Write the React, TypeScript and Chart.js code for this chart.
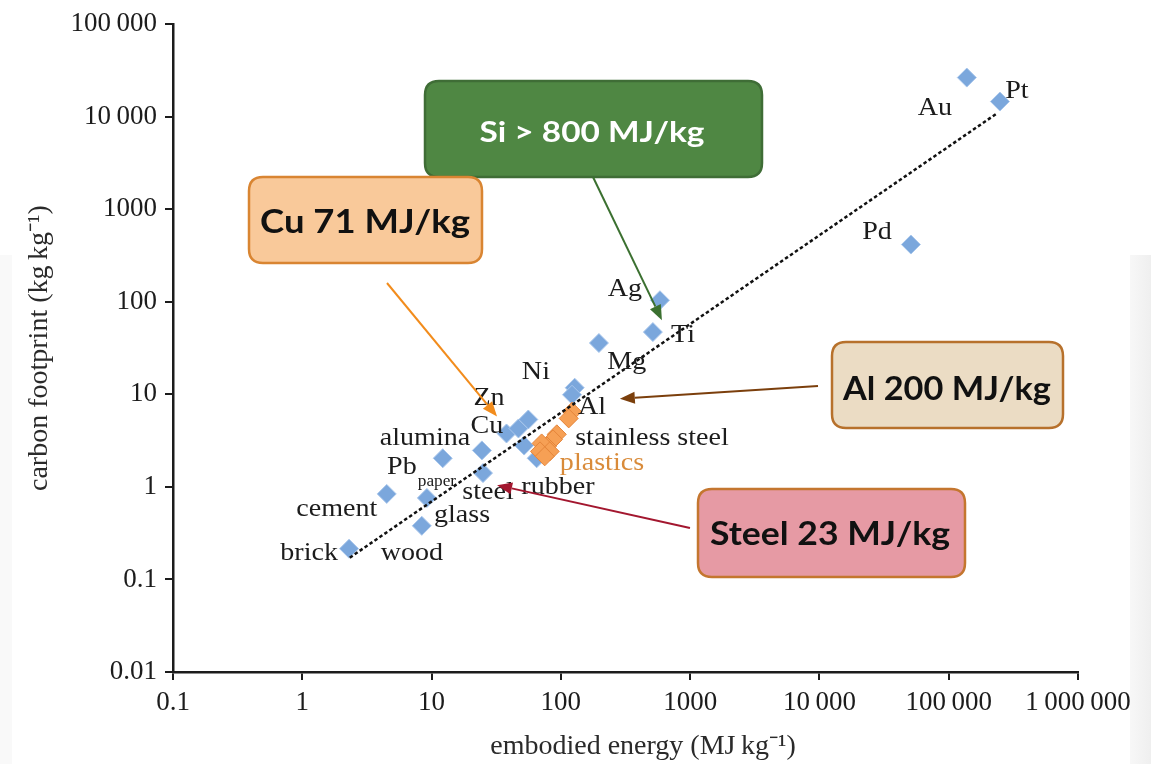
import React, { useEffect, useRef } from "react";
import { Chart, registerables } from "chart.js";

Chart.register(...registerables);

// ---- axis ticks ----
const xTickValues = [0.1, 1, 10, 100, 1000, 10000, 100000, 1000000];
const xTickLabels = ["0.1", "1", "10", "100", "1000", "10\u2009000", "100\u2009000", "1\u2009000\u2009000"];
const yTickValues = [0.01, 0.1, 1, 10, 100, 1000, 10000, 100000];
const yTickLabels = ["0.01", "0.1", "1", "10", "100", "1000", "10\u2009000", "100\u2009000"];

// ---- materials (blue diamonds) ----
const materialNames = [
  "brick", "wood", "cement", "paper", "Pb", "alumina", "steel", "Cu", "Zn-a", "Zn",
  "rubber-a", "rubber", "Ni", "Al", "Mg", "Ti", "Ag", "Pd", "Au", "Pt",
];
const materialEnergy = [2.3, 8.4, 4.5, 9.2, 12.2, 24.5, 25, 38, 47, 56, 52, 65, 128, 122, 197, 515, 584, 51000, 138000, 249000];
const materialCarbon = [0.215, 0.38, 0.84, 0.76, 2.04, 2.48, 1.41, 3.78, 4.28, 5.35, 2.8, 2.04, 11.8, 9.9, 35.9, 47.1, 104, 416, 26500, 14600];

// ---- plastics (orange diamonds) ----
const plasticsEnergy = [122, 115, 93, 87, 78, 71, 82, 69, 75];
const plasticsCarbon = [6.5, 5.5, 3.7, 3.26, 2.74, 2.95, 2.42, 2.42, 2.14];

// ---- trend line ----
const trendEnergy = [2.33, 236000];
const trendCarbon = [0.172, 10870];

// ---- point labels ----
const labelTexts = [
  "Au", "Pt", "Pd", "Ag", "Ti", "Mg", "Ni", "Zn", "Al", "Cu", "alumina", "stainless steel",
  "plastics", "Pb", "paper", "rubber", "steel", "cement", "glass", "brick", "wood",
];
const labelEnergy = [78200, 337000, 27900, 313, 880, 324, 64.1, 27.8, 174, 26.8, 8.89, 507, 208, 5.9, 11.0, 95, 27.3, 1.85, 17.2, 1.13, 7.05];
const labelCarbon = [12300, 18700, 560, 137, 43.8, 22.5, 17.5, 8.99, 7.2, 4.5, 3.34, 3.34, 1.8, 1.63, 1.13, 0.996, 0.88, 0.578, 0.498, 0.19, 0.19];

// ---- callouts ----
const calloutTexts = ["Si > 800 MJ/kg", "Cu 71 MJ/kg", "Al 200 MJ/kg", "Steel 23 MJ/kg"];
const calloutTipEnergy = [605, 32.1, 286, 32.1];
const calloutTipCarbon = [63.4, 5.76, 8.99, 1.045];

const calloutStyles = [
  { box: [425, 81, 337, 96], fill: "#4f8743", stroke: "#3f6d36", text: "#ffffff", size: 29, width: 225, cx: 592, base: 142, tail: [593, 177], arrow: "#3b7030" },
  { box: [249, 177, 233, 86], fill: "#f9c99a", stroke: "#d98532", text: "#111111", size: 33, width: 210, cx: 365, base: 233, tail: [387, 283], arrow: "#f28c1c" },
  { box: [832, 342, 231, 86], fill: "#ebdcc4", stroke: "#b7712c", text: "#111111", size: 33, width: 208, cx: 947, base: 400, tail: [818, 386], arrow: "#7b3f0c" },
  { box: [698, 489, 267, 88], fill: "#e69aa4", stroke: "#c4762f", text: "#111111", size: 33, width: 240, cx: 830, base: 545, tail: [690, 528], arrow: "#a3172f" },
];

const SERIF = '"Liberation Serif", "Times New Roman", serif';

function roundRect(ctx: CanvasRenderingContext2D, x: number, y: number, w: number, h: number, r: number) {
  ctx.beginPath();
  ctx.moveTo(x + r, y);
  ctx.lineTo(x + w - r, y);
  ctx.quadraticCurveTo(x + w, y, x + w, y + r);
  ctx.lineTo(x + w, y + h - r);
  ctx.quadraticCurveTo(x + w, y + h, x + w - r, y + h);
  ctx.lineTo(x + r, y + h);
  ctx.quadraticCurveTo(x, y + h, x, y + h - r);
  ctx.lineTo(x, y + r);
  ctx.quadraticCurveTo(x, y, x + r, y);
  ctx.closePath();
}

function arrow(ctx: CanvasRenderingContext2D, x0: number, y0: number, x1: number, y1: number, color: string) {
  const ang = Math.atan2(y1 - y0, x1 - x0);
  const head = 15;
  const half = 6;
  const bx = x1 - head * Math.cos(ang);
  const by = y1 - head * Math.sin(ang);
  ctx.save();
  ctx.strokeStyle = color;
  ctx.fillStyle = color;
  ctx.lineWidth = 2;
  ctx.beginPath();
  ctx.moveTo(x0, y0);
  ctx.lineTo(bx, by);
  ctx.stroke();
  ctx.beginPath();
  ctx.moveTo(x1, y1);
  ctx.lineTo(bx + half * Math.sin(ang), by - half * Math.cos(ang));
  ctx.lineTo(bx - half * Math.sin(ang), by + half * Math.cos(ang));
  ctx.closePath();
  ctx.fill();
  ctx.restore();
}

const backgroundPlugin = {
  id: "bgPlugin",
  beforeDraw(chart: any) {
    const ctx = chart.ctx as CanvasRenderingContext2D;
    ctx.save();
    ctx.fillStyle = "#ffffff";
    ctx.fillRect(0, 0, chart.width, chart.height);
    const g = ctx.createLinearGradient(1128, 0, 1151, 0);
    g.addColorStop(0, "#f8f8f8");
    g.addColorStop(1, "#efefef");
    ctx.fillStyle = g;
    ctx.fillRect(1130, 255, 21, 509);
    ctx.fillStyle = "#f9f9f9";
    ctx.fillRect(0, 255, 12, 509);
    ctx.restore();
  },
};

const labelPlugin = {
  id: "labelPlugin",
  afterDatasetsDraw(chart: any) {
    const ctx = chart.ctx as CanvasRenderingContext2D;
    const xs = chart.scales.x;
    const ys = chart.scales.y;
    ctx.save();
    ctx.textAlign = "center";
    ctx.textBaseline = "middle";
    labelTexts.forEach((t, i) => {
      const px = xs.getPixelForValue(labelEnergy[i]);
      const py = ys.getPixelForValue(labelCarbon[i]);
      const size = t === "paper" ? 16 : 26;
      ctx.font = `${size}px ${SERIF}`;
      ctx.fillStyle = t === "plastics" ? "#d98b3a" : "#1c1c1c";
      ctx.save();
      ctx.translate(px, py);
      ctx.scale(1.08, 1);
      ctx.fillText(t, 0, 0);
      ctx.restore();
    });
    ctx.restore();
  },
};

const calloutPlugin = {
  id: "calloutPlugin",
  afterDraw(chart: any) {
    const ctx = chart.ctx as CanvasRenderingContext2D;
    const xs = chart.scales.x;
    const ys = chart.scales.y;
    calloutStyles.forEach((s, i) => {
      const [bx, by, bw, bh] = s.box;
      ctx.save();
      roundRect(ctx, bx, by, bw, bh, 14);
      ctx.fillStyle = s.fill;
      ctx.fill();
      ctx.lineWidth = 2.5;
      ctx.strokeStyle = s.stroke;
      ctx.stroke();
      ctx.font = `bold ${s.size}px Lato, "DejaVu Sans", sans-serif`;
      ctx.textAlign = "center";
      ctx.textBaseline = "alphabetic";
      const w = ctx.measureText(calloutTexts[i]).width;
      ctx.translate(s.cx, s.base);
      ctx.scale(s.width / w, 1);
      ctx.fillStyle = s.text;
      ctx.fillText(calloutTexts[i], 0, 0);
      ctx.restore();
    });
    calloutStyles.forEach((s, i) => {
      const tx = xs.getPixelForValue(calloutTipEnergy[i]);
      const ty = ys.getPixelForValue(calloutTipCarbon[i]);
      arrow(ctx, s.tail[0], s.tail[1], tx, ty, s.arrow);
    });
  },
};

export default function App() {
  const canvasRef = useRef<HTMLCanvasElement | null>(null);

  useEffect(() => {
    if (!canvasRef.current) return;
    const toXY = (xs: number[], ys: number[]) => xs.map((v, i) => ({ x: v, y: ys[i] }));
    const chart = new Chart(canvasRef.current, {
      type: "scatter",
      data: {
        datasets: [
          {
            type: "line",
            label: "trend",
            data: toXY(trendEnergy, trendCarbon),
            borderColor: "#111111",
            borderWidth: 2.5,
            borderDash: [3.5, 2.5],
            pointRadius: 0,
            fill: false,
          } as any,
          {
            label: "plastics",
            data: toXY(plasticsEnergy, plasticsCarbon),
            pointStyle: "rectRot",
            pointRadius: 9.5,
            backgroundColor: "#f6a055",
            borderColor: "#e5853a",
            borderWidth: 1,
          },
          {
            label: "materials",
            data: toXY(materialEnergy, materialCarbon),
            pointStyle: "rectRot",
            pointRadius: 9.5,
            backgroundColor: "#7ba7dc",
            borderColor: "#a9c7ec",
            borderWidth: 1,
          },
        ],
      },
      options: {
        responsive: false,
        animation: false,
        devicePixelRatio: 1,
        layout: { padding: { top: 20, right: 73, left: 0, bottom: 0 } },
        plugins: {
          legend: { display: false },
          tooltip: { enabled: false },
        },
        scales: {
          x: {
            type: "logarithmic",
            min: 0.1,
            max: 1000000,
            afterBuildTicks: (s: any) => {
              s.ticks = xTickValues.map((v) => ({ value: v }));
            },
            afterFit: (s: any) => {
              s.height = 92;
            },
            ticks: {
              autoSkip: false,
              maxRotation: 0,
              padding: 7,
              color: "#1c1c1c",
              font: { family: SERIF, size: 27 },
              callback: (_v: any, i: number) => xTickLabels[i],
            },
            grid: { drawOnChartArea: false, drawTicks: true, tickLength: 8, color: "#1c1c1c", lineWidth: 2 },
            border: { display: true, color: "#1c1c1c", width: 2.5 },
            title: {
              display: true,
              text: "\u00A0\u00A0\u00A0\u00A0\u00A0embodied energy (MJ\u2009kg\u207B\u00B9)",
              color: "#2a2a2a",
              font: { family: SERIF, size: 28 },
              padding: { top: 0, bottom: 1 },
            },
          },
          y: {
            type: "logarithmic",
            min: 0.01,
            max: 100000,
            afterBuildTicks: (s: any) => {
              s.ticks = yTickValues.map((v) => ({ value: v }));
            },
            afterFit: (s: any) => {
              s.width = 173;
            },
            ticks: {
              autoSkip: false,
              padding: 8,
              color: "#1c1c1c",
              font: { family: SERIF, size: 27 },
              callback: (_v: any, i: number) => yTickLabels[i],
            },
            grid: { drawOnChartArea: false, drawTicks: true, tickLength: 8, color: "#1c1c1c", lineWidth: 2 },
            border: { display: true, color: "#1c1c1c", width: 2.5 },
            title: {
              display: true,
              text: "carbon footprint (kg\u2009kg\u207B\u00B9)",
              color: "#2a2a2a",
              font: { family: SERIF, size: 28 },
              padding: { top: 23, bottom: 0 },
            },
          },
        },
      },
      plugins: [backgroundPlugin, labelPlugin, calloutPlugin],
    });
    return () => chart.destroy();
  }, []);

  return (
    <div style={{ position: "fixed", left: 0, top: 0, width: 1151, height: 764, background: "#fff" }}>
      <canvas ref={canvasRef} width={1151} height={764} style={{ width: 1151, height: 764, display: "block" }} />
    </div>
  );
}
